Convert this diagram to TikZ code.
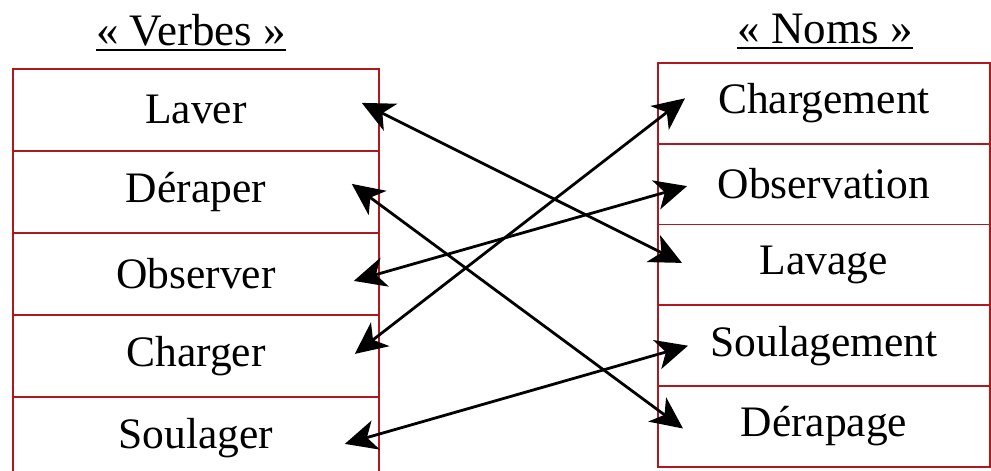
\documentclass[tikz,border=0pt]{standalone}
\usepackage{fontspec}
\setmainfont{Liberation Serif}
\usetikzlibrary{arrows.meta,calc}
\definecolor{boxred}{HTML}{B01820}
\begin{document}
\begin{tikzpicture}[x=1pt,y=-1pt,
  lrow/.style={draw=boxred,line width=1.8pt,minimum width=366pt,minimum height=82pt,inner sep=0pt,anchor=north west,font=\fontsize{43.5}{48}\selectfont},
  rrow/.style={draw=boxred,line width=1.8pt,minimum width=332pt,minimum height=80.8pt,inner sep=0pt,anchor=north west,font=\fontsize{43.5}{48}\selectfont},
  title/.style={inner sep=0pt,anchor=base,font=\fontsize{45}{50}\selectfont},
  tip/.tip={Stealth[length=32pt,width=30pt,inset=9pt]},
  link/.style={tip-tip,line width=2.8pt,black}]
\useasboundingbox (0,0) rectangle (991,471);
\clip (0,0) rectangle (991,471);
\fill[white] (0,0) rectangle (991,471);
% titles
\node[title] (tv) at (191,45) {« Verbes »};
\node[title] (tn) at (825,43) {« Noms »};
\draw[line width=2pt] ([yshift=-5]tv.base west) -- ([yshift=-5]tv.base east);
\draw[line width=2pt] ([yshift=-5]tn.base west) -- ([yshift=-5]tn.base east);
% left column
\node[lrow] (laver) at (12,68) {Laver};
\node[lrow] (deraper) at (12,150) {Déraper};
\node[lrow] (observer) at (12,232) {Observer};
\node[lrow] (charger) at (12,314) {Charger};
\node[lrow] (soulager) at (12,396) {Soulager};
% right column
\node[rrow] (chargement) at (657,62) {Chargement};
\node[rrow] (observation) at (657,142.8) {Observation};
\node[rrow] (lavage) at (657,223.6) {Lavage};
\node[rrow] (soulagement) at (657,304.4) {Soulagement};
\node[rrow] (derapage) at (657,385.2) {Dérapage};
% links
\draw[link] ($(laver.east)+(-18,-7)$) -- ($(lavage.west)+(25,-2)$);
\draw[link] ($(deraper.east)+(-28,-8)$) -- ($(derapage.west)+(26,2)$);
\draw[link] ($(observer.east)+(-26,7)$) -- ($(observation.west)+(30,2)$);
\draw[link] ($(charger.east)+(-25,-2)$) -- ($(chargement.west)+(28,-5)$);
\draw[link] ($(soulager.east)+(-35,6)$) -- ($(soulagement.west)+(31,0)$);
\end{tikzpicture}
\end{document}
